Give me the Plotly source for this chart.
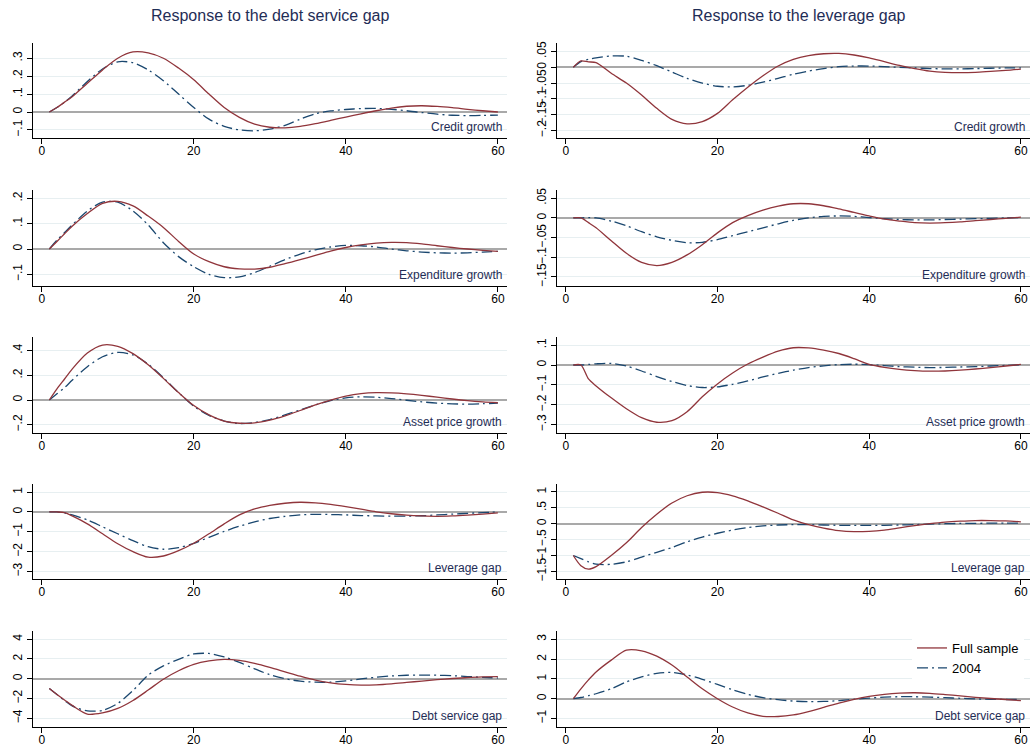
import plotly.graph_objects as go
from plotly.subplots import make_subplots

horizon = [1, 2, 3, 4, 6, 8, 10, 12, 14, 16, 18, 20, 22, 24, 26, 28, 30,
           32, 34, 36, 38, 40, 42, 44, 46, 48, 50, 52, 54, 56, 58, 60]

# response to the debt service gap
credit_ds_full = [0, 0.025, 0.055, 0.085, 0.16, 0.235, 0.3, 0.335, 0.33, 0.3, 0.245, 0.18, 0.1, 0.025,
                  -0.03, -0.068, -0.085, -0.088, -0.08, -0.065, -0.047, -0.028, -0.01, 0.007, 0.022,
                  0.032, 0.035, 0.031, 0.024, 0.015, 0.007, 0.0]
credit_ds_2004 = [0, 0.025, 0.055, 0.09, 0.17, 0.24, 0.28, 0.275, 0.235, 0.175, 0.1, 0.025, -0.04, -0.08,
                  -0.1, -0.105, -0.095, -0.075, -0.04, -0.01, 0.006, 0.014, 0.019, 0.02, 0.015, 0.007,
                  -0.003, -0.012, -0.018, -0.02, -0.019, -0.017]
expend_ds_full = [0, 0.03, 0.06, 0.09, 0.14, 0.18, 0.188, 0.17, 0.13, 0.085, 0.03, -0.02, -0.05, -0.07,
                  -0.078, -0.079, -0.072, -0.058, -0.042, -0.025, -0.008, 0.006, 0.016, 0.023, 0.026,
                  0.025, 0.02, 0.013, 0.006, 0.0, -0.005, -0.009]
expend_ds_2004 = [0, 0.035, 0.065, 0.095, 0.15, 0.185, 0.185, 0.15, 0.095, 0.025, -0.03, -0.07, -0.1,
                  -0.113, -0.11, -0.093, -0.068, -0.042, -0.02, -0.003, 0.008, 0.014, 0.013, 0.008, 0.0,
                  -0.007, -0.012, -0.015, -0.016, -0.015, -0.012, -0.009]
asset_ds_full = [0, 0.09, 0.17, 0.25, 0.38, 0.445, 0.435, 0.375, 0.285, 0.175, 0.06, -0.045, -0.12, -0.17,
                 -0.188, -0.185, -0.163, -0.128, -0.085, -0.04, 0.0, 0.032, 0.052, 0.06, 0.058, 0.05,
                 0.038, 0.023, 0.008, -0.005, -0.015, -0.022]
asset_ds_2004 = [0, 0.05, 0.1, 0.16, 0.27, 0.35, 0.385, 0.365, 0.29, 0.18, 0.06, -0.05, -0.125, -0.17,
                 -0.19, -0.182, -0.158, -0.12, -0.08, -0.04, -0.005, 0.018, 0.026, 0.022, 0.012, -0.002,
                 -0.015, -0.025, -0.031, -0.033, -0.03, -0.025]
lev_ds_full = [0, 0.0, -0.03, -0.2, -0.6, -1.1, -1.6, -2.0, -2.28, -2.22, -1.95, -1.58, -1.1, -0.6,
               -0.15, 0.15, 0.33, 0.44, 0.49, 0.46, 0.38, 0.27, 0.14, 0.01, -0.09, -0.16, -0.2, -0.22,
               -0.2, -0.16, -0.11, -0.05]
lev_ds_2004 = [0, 0.0, -0.05, -0.15, -0.4, -0.75, -1.1, -1.45, -1.75, -1.88, -1.8, -1.58, -1.28, -0.98,
               -0.72, -0.5, -0.33, -0.22, -0.15, -0.12, -0.13, -0.15, -0.18, -0.2, -0.21, -0.21, -0.19,
               -0.15, -0.11, -0.07, -0.03, 0.0]
dsr_ds_full = [-1.0, -1.6, -2.15, -2.7, -3.58, -3.45, -3.0, -2.2, -1.15, -0.05, 0.8, 1.45, 1.8, 1.95,
               1.85, 1.55, 1.15, 0.7, 0.25, -0.15, -0.42, -0.58, -0.65, -0.62, -0.52, -0.38, -0.24,
               -0.1, 0.02, 0.12, 0.18, 0.22]
dsr_ds_2004 = [-1.0, -1.6, -2.2, -2.75, -3.25, -3.2, -2.5, -1.2, 0.35, 1.3, 1.95, 2.5, 2.55, 2.2, 1.65,
               1.0, 0.4, 0.0, -0.25, -0.35, -0.35, -0.22, -0.02, 0.15, 0.28, 0.35, 0.37, 0.35, 0.3,
               0.22, 0.14, 0.07]

# response to the leverage gap
credit_lev_full = [0, 0.02, 0.017, 0.015, -0.019, -0.05, -0.088, -0.13, -0.165, -0.179, -0.172, -0.146,
                   -0.103, -0.063, -0.027, 0.004, 0.025, 0.037, 0.043, 0.044, 0.039, 0.03, 0.018, 0.006,
                   -0.004, -0.012, -0.016, -0.017, -0.016, -0.013, -0.01, -0.006]
credit_lev_2004 = [0, 0.018, 0.025, 0.03, 0.036, 0.035, 0.022, 0.005, -0.015, -0.035, -0.05, -0.06,
                   -0.062, -0.057, -0.047, -0.035, -0.022, -0.012, -0.004, 0.002, 0.004, 0.004, 0.002,
                   0.0, -0.002, -0.004, -0.005, -0.005, -0.004, -0.003, -0.002, -0.002]
expend_lev_full = [0, 0, -0.012, -0.025, -0.058, -0.09, -0.113, -0.121, -0.113, -0.094, -0.068, -0.038,
                   -0.012, 0.006, 0.02, 0.03, 0.036, 0.036, 0.031, 0.023, 0.014, 0.005, -0.003, -0.008,
                   -0.012, -0.013, -0.012, -0.01, -0.007, -0.004, -0.001, 0.002]
expend_lev_2004 = [0, 0, 0.001, 0.0, -0.008, -0.02, -0.035, -0.048, -0.057, -0.063, -0.062, -0.055,
                   -0.045, -0.035, -0.025, -0.015, -0.006, 0.0, 0.004, 0.005, 0.004, 0.001, -0.002,
                   -0.004, -0.005, -0.005, -0.004, -0.003, -0.002, -0.001, 0.0, 0.001]
asset_lev_full = [0, 0, -0.07, -0.105, -0.165, -0.22, -0.265, -0.288, -0.28, -0.235, -0.16, -0.095,
                  -0.04, 0.005, 0.04, 0.07, 0.087, 0.086, 0.075, 0.058, 0.032, 0.003, -0.012, -0.022,
                  -0.028, -0.031, -0.03, -0.026, -0.02, -0.013, -0.005, 0.003]
asset_lev_2004 = [0, 0, 0.003, 0.006, 0.008, -0.005, -0.03, -0.058, -0.083, -0.103, -0.113, -0.11,
                  -0.097, -0.08, -0.06, -0.042, -0.026, -0.013, -0.004, 0.002, 0.004, 0.002, -0.003,
                  -0.008, -0.011, -0.013, -0.012, -0.01, -0.008, -0.005, -0.002, 0.001]
lev_lev_full = [-1.0, -1.32, -1.43, -1.35, -1.0, -0.6, -0.12, 0.3, 0.65, 0.88, 0.99, 0.98, 0.88, 0.72,
                0.53, 0.33, 0.12, -0.03, -0.14, -0.22, -0.25, -0.24, -0.2, -0.13, -0.06, 0.0, 0.05,
                0.08, 0.1, 0.1, 0.09, 0.06]
lev_lev_2004 = [-1.0, -1.1, -1.2, -1.27, -1.28, -1.2, -1.05, -0.9, -0.75, -0.57, -0.42, -0.3, -0.2,
                -0.12, -0.07, -0.04, -0.03, -0.03, -0.04, -0.05, -0.05, -0.05, -0.05, -0.04, -0.03,
                -0.01, 0.0, 0.01, 0.01, 0.02, 0.02, 0.02]
dsr_lev_full = [0, 0.5, 0.95, 1.35, 1.95, 2.45, 2.42, 2.15, 1.7, 1.1, 0.5, 0.0, -0.42, -0.72, -0.89,
                -0.9, -0.82, -0.65, -0.44, -0.22, -0.03, 0.12, 0.22, 0.28, 0.3, 0.27, 0.21, 0.14, 0.07,
                0.01, -0.04, -0.1]
dsr_lev_2004 = [0, 0.06, 0.15, 0.25, 0.5, 0.85, 1.1, 1.28, 1.33, 1.2, 0.98, 0.72, 0.45, 0.22, 0.05,
                -0.05, -0.12, -0.15, -0.14, -0.1, -0.03, 0.03, 0.08, 0.1, 0.1, 0.08, 0.05, 0.02, -0.01,
                -0.03, -0.04, -0.04]

# y tick values and labels for each panel
ticks_credit_ds = [-0.1, 0, 0.1, 0.2, 0.3]
labels_credit_ds = ["\u2212.1", "0", ".1", ".2", ".3"]
ticks_credit_lev = [-0.2, -0.15, -0.1, -0.05, 0, 0.05]
labels_credit_lev = ["\u2212.2", "\u2212.15", "\u2212.1", "\u2212.05", "0", ".05"]
ticks_expend_ds = [-0.1, 0, 0.1, 0.2]
labels_expend_ds = ["\u2212.1", "0", ".1", ".2"]
ticks_expend_lev = [-0.15, -0.1, -0.05, 0, 0.05]
labels_expend_lev = ["\u2212.15", "\u2212.1", "\u2212.05", "0", ".05"]
ticks_asset_ds = [-0.2, 0, 0.2, 0.4]
labels_asset_ds = ["\u2212.2", "0", ".2", ".4"]
ticks_asset_lev = [-0.3, -0.2, -0.1, 0, 0.1]
labels_asset_lev = ["\u2212.3", "\u2212.2", "\u2212.1", "0", ".1"]
ticks_lev_ds = [-3, -2, -1, 0, 1]
labels_lev_ds = ["\u22123", "\u22122", "\u22121", "0", "1"]
ticks_lev_lev = [-1.5, -1, -0.5, 0, 0.5, 1]
labels_lev_lev = ["\u22121.5", "\u22121", "\u2212.5", "0", ".5", "1"]
ticks_dsr_ds = [-4, -2, 0, 2, 4]
labels_dsr_ds = ["\u22124", "\u22122", "0", "2", "4"]
ticks_dsr_lev = [-1, 0, 1, 2, 3]
labels_dsr_lev = ["\u22121", "0", "1", "2", "3"]

col_titles = ["Response to the debt service gap", "Response to the leverage gap"]

RED = "#90353b"
BLUE = "#1a476f"
NAVY = "#1f2d56"
FONT = "Liberation Sans, Arial, sans-serif"

panels = [
    ("Credit growth", credit_ds_full, credit_ds_2004, ticks_credit_ds, labels_credit_ds, [-0.145, 0.385]),
    ("Credit growth", credit_lev_full, credit_lev_2004, ticks_credit_lev, labels_credit_lev, [-0.224, 0.077]),
    ("Expenditure growth", expend_ds_full, expend_ds_2004, ticks_expend_ds, labels_expend_ds, [-0.146, 0.233]),
    ("Expenditure growth", expend_lev_full, expend_lev_2004, ticks_expend_lev, labels_expend_lev, [-0.173, 0.071]),
    ("Asset price growth", asset_ds_full, asset_ds_2004, ticks_asset_ds, labels_asset_ds, [-0.267, 0.51]),
    ("Asset price growth", asset_lev_full, asset_lev_2004, ticks_asset_lev, labels_asset_lev, [-0.342, 0.141]),
    ("Leverage gap", lev_ds_full, lev_ds_2004, ticks_lev_ds, labels_lev_ds, [-3.38, 1.41]),
    ("Leverage gap", lev_lev_full, lev_lev_2004, ticks_lev_lev, labels_lev_lev, [-1.74, 1.25]),
    ("Debt service gap", dsr_ds_full, dsr_ds_2004, ticks_dsr_ds, labels_dsr_ds, [-4.88, 4.82]),
    ("Debt service gap", dsr_lev_full, dsr_lev_2004, ticks_dsr_lev, labels_dsr_lev, [-1.43, 3.42]),
]

W, H = 1032, 748
col_px = [(33, 507), (557, 1030)]
row_px = [(43, 138), (190, 286), (337, 433), (484, 579), (631, 727)]

fig = make_subplots(rows=5, cols=2)

for i, (label, full, early, tvals, ttext, yrange) in enumerate(panels):
    row, col = i // 2 + 1, i % 2 + 1
    n = i + 1
    suffix = "" if n == 1 else str(n)
    fig.add_trace(go.Scatter(x=horizon, y=early, mode="lines", name="2004", legendrank=2,
                             showlegend=(n == 10),
                             line=dict(color=BLUE, width=1.3, dash="11px,4px,2px,4px",
                                       shape="spline", smoothing=0.8)),
                  row=row, col=col)
    fig.add_trace(go.Scatter(x=horizon, y=full, mode="lines", name="Full sample", legendrank=1,
                             showlegend=(n == 10),
                             line=dict(color=RED, width=1.3, shape="spline", smoothing=0.8)),
                  row=row, col=col)

    x0, x1 = col_px[col - 1]
    y0, y1 = row_px[row - 1]
    fig.layout["xaxis" + suffix].domain = [x0 / W, x1 / W]
    fig.layout["yaxis" + suffix].domain = [1 - y1 / H, 1 - y0 / H]
    fig.update_yaxes(range=yrange, tickvals=tvals, ticktext=ttext, row=row, col=col)

    fig.add_annotation(text=label, xref="x" + suffix + " domain", yref="y" + suffix + " domain",
                       x=0.993, y=0.02, xanchor="right", yanchor="bottom", showarrow=False,
                       font=dict(size=12, color=NAVY, family=FONT))

for j, title in enumerate(col_titles):
    x0, x1 = col_px[j]
    fig.add_annotation(text=title, xref="paper", yref="paper", x=(x0 + x1) / 2 / W + (0.005 if j else 0.0),
                       y=1 - 16 / H, xanchor="center", yanchor="middle", showarrow=False,
                       font=dict(size=16, color=NAVY, family=FONT))

fig.update_xaxes(range=[-1.15, 61.2], tickvals=[0, 20, 40, 60], showgrid=False, zeroline=False,
                 showline=True, linecolor="black", linewidth=1, ticks="outside", ticklen=5,
                 tickcolor="black", tickfont=dict(size=12, color="black", family=FONT),
                 ticklabelstandoff=-3, automargin=False)
fig.update_yaxes(showgrid=True, gridcolor="#e7eff1", gridwidth=1, zeroline=True,
                 zerolinecolor="#a9a9a9", zerolinewidth=1.5, showline=True, linecolor="black",
                 linewidth=1, ticks="outside", ticklen=5, tickcolor="black", tickangle=-90,
                 tickfont=dict(size=12, color="black", family=FONT), automargin=False)

fig.update_layout(width=W, height=H, margin=dict(l=0, r=0, t=0, b=0),
                  paper_bgcolor="white", plot_bgcolor="white",
                  font=dict(family=FONT),
                  legend=dict(x=912 / W, y=1 - 633 / H, xanchor="left", yanchor="top",
                              bgcolor="white", itemwidth=30, tracegroupgap=0,
                              font=dict(size=13, color="black", family=FONT)))

fig.write_html("out.html", config={"displayModeBar": False},
               post_script="document.body.style.margin='0';")
